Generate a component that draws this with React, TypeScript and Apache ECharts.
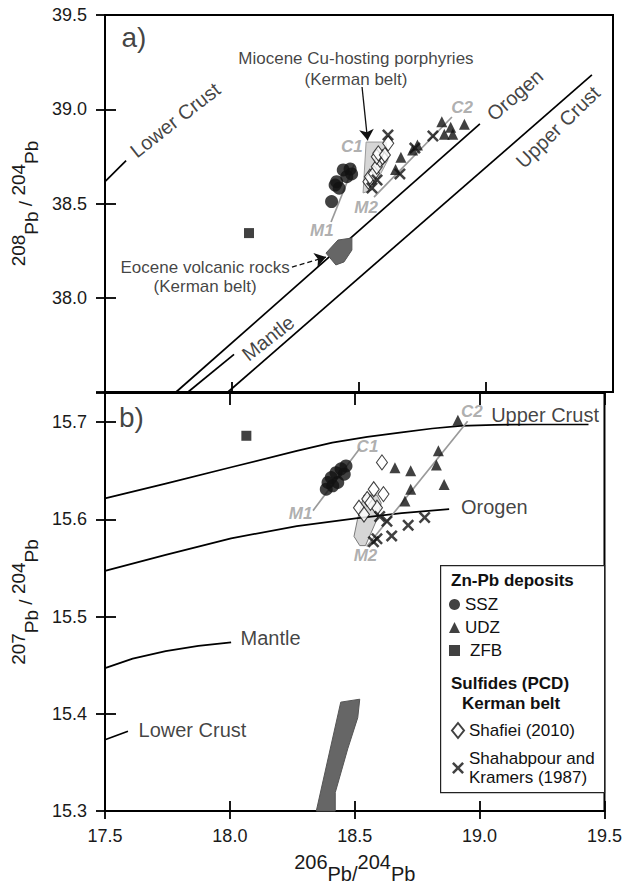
import React, { useEffect, useRef } from 'react';
import * as echarts from 'echarts';

const FONT = '"Liberation Sans", Arial, Helvetica, sans-serif';

// ---------- axis ranges / ticks ----------
const X_MIN = 17.5, X_MAX = 19.5, X_STEP = 0.5;
const YA_MIN = 37.5, YA_MAX = 39.5, YA_STEP = 0.5;
const YB_MIN = 15.3, YB_MAX = 15.73, YB_STEP = 0.1;

// ---------- panel a) 208Pb/204Pb vs 206Pb/204Pb ----------
const sszA = [[18.392, 38.51], [18.406, 38.598], [18.422, 38.581], [18.412, 38.616], [18.438, 38.678], [18.465, 38.683], [18.471, 38.657], [18.452, 38.642]];
const udzA = [[18.665, 38.745], [18.644, 38.681], [18.711, 38.784], [18.73, 38.81], [18.826, 38.934], [18.861, 38.904], [18.836, 38.867], [18.869, 38.867], [18.915, 38.92]];
const zfbA = [[18.067, 38.343]];
const shafieiA = [[18.537, 38.616], [18.543, 38.642], [18.559, 38.66], [18.57, 38.695], [18.583, 38.731], [18.593, 38.745], [18.57, 38.748], [18.576, 38.766], [18.602, 38.757], [18.615, 38.819]];
const shahabA = [[18.614, 38.863], [18.661, 38.657], [18.791, 38.858], [18.72, 38.794], [18.571, 38.625], [18.551, 38.582]];

const lowerCrustA = [[17.5, 38.616], [17.583, 38.727]];
const mantleA = [[17.827, 37.5], [18.008, 37.7]];
const orogenA = [[17.78, 37.5], [18.976, 38.922]];
const upperCrustA = [[17.984, 37.5], [19.417, 39.182]];

const eoceneA = [[18.37, 38.237], [18.417, 38.306], [18.472, 38.317], [18.472, 38.253], [18.441, 38.19], [18.409, 38.174]];
const mioceneA = [[18.528, 38.826], [18.606, 38.826], [18.614, 38.731], [18.551, 38.572], [18.516, 38.556]];
const m1A = [[18.39, 38.402], [18.48, 38.704]];
const m2A = [[18.559, 38.534], [18.866, 38.959]];

// ---------- panel b) 207Pb/204Pb vs 206Pb/204Pb ----------
const sszB = [[18.386, 15.631], [18.393, 15.638], [18.406, 15.643], [18.425, 15.648], [18.445, 15.652], [18.465, 15.655], [18.458, 15.6465], [18.432, 15.638], [18.412, 15.6345]];
const udzB = [[18.913, 15.702], [18.835, 15.6705], [18.827, 15.656], [18.858, 15.636], [18.661, 15.653], [18.724, 15.65], [18.724, 15.631], [18.701, 15.619]];
const zfbB = [[18.066, 15.686]];
const shafieiB = [[18.609, 15.6586], [18.576, 15.631], [18.615, 15.626], [18.55, 15.621], [18.517, 15.612], [18.589, 15.612], [18.563, 15.617], [18.537, 15.605]];
const shahabB = [[18.78, 15.602], [18.714, 15.594], [18.648, 15.583], [18.589, 15.58], [18.575, 15.577], [18.629, 15.598], [18.6, 15.603]];

const upperCrustB = [[17.5, 15.6216], [17.743, 15.6368], [18.005, 15.6536], [18.268, 15.6704], [18.41, 15.679], [18.55, 15.6848], [18.688, 15.6894], [18.81, 15.6935], [18.924, 15.6962], [19.06, 15.6973], [19.213, 15.6976], [19.436, 15.6976]];
const orogenB = [[17.5, 15.547], [17.743, 15.5635], [18.005, 15.5805], [18.268, 15.5930], [18.504, 15.601], [18.688, 15.6065], [18.878, 15.6105]];
const mantleB = [[17.5, 15.447], [17.611, 15.4568], [17.743, 15.4645], [17.874, 15.4698], [18.005, 15.4735]];
const lowerCrustB = [[17.5, 15.3733], [17.592, 15.382]];

const eoceneB = [[18.346, 15.3], [18.444, 15.412], [18.52, 15.415], [18.512, 15.396], [18.472, 15.364], [18.422, 15.319], [18.422, 15.3]];
const mioceneB = [[18.537, 15.625], [18.589, 15.625], [18.606, 15.617], [18.589, 15.6], [18.543, 15.573], [18.52, 15.573], [18.497, 15.5825], [18.511, 15.6]];
const m1B = [[18.333, 15.609], [18.52, 15.673]];
const m2B = [[18.548, 15.572], [18.952, 15.701]];

// ---------- text labels [text, x, y, rotate, fontSize] ----------
const textA: [string, number, number, number, number][] = [
  ['a)', 17.614, 39.383, 0, 28],
  ['Lower Crust', 17.776, 38.943, 38, 20],
  ['Orogen', 19.114, 39.076, 41, 20],
  ['Upper Crust', 19.283, 38.906, 44, 20],
  ['Mantle', 18.142, 37.786, 38, 20],
  ['Miocene Cu-hosting porphyries', 18.488, 39.267, 0, 17],
  ['(Kerman belt)', 18.488, 39.16, 0, 17],
  ['Eocene volcanic rocks', 17.894, 38.163, 0, 17],
  ['(Kerman belt)', 17.894, 38.062, 0, 17],
];
const grayA: [string, number, number][] = [['M1', 18.354, 38.359], ['C1', 18.472, 38.8], ['M2', 18.528, 38.481], ['C2', 18.906, 39.007]];
const textB: [string, number, number, number, number][] = [
  ['b)', 17.606, 15.705, 0, 28],
  ['Upper Crust', 19.262, 15.7072, 0, 20],
  ['Orogen', 19.059, 15.6131, 0, 20],
  ['Mantle', 18.163, 15.4776, 0, 20],
  ['Lower Crust', 17.85, 15.3836, 0, 20],
];
const grayB: [string, number, number][] = [['M1', 18.283, 15.6064], ['C1', 18.551, 15.675], ['M2', 18.543, 15.563], ['C2', 18.969, 15.711]];

// arrows [from, to, dashed]
const arrowsA: [number[], number[], boolean][] = [
  [[18.512, 39.118], [18.534, 38.835], false],
  [[18.236, 38.163], [18.37, 38.216], true],
];

const N_SSZ = 'SSZ', N_UDZ = 'UDZ', N_ZFB = 'ZFB', N_SHA = 'Shafiei (2010)', N_SK = 'Shahabpour and\nKramers (1987)';
const X_PATH = 'path://M0,1.5L1.5,0L5,3.5L8.5,0L10,1.5L6.5,5L10,8.5L8.5,10L5,6.5L1.5,10L0,8.5L3.5,5Z';

function curve(data: number[][], xi: number, yi: number) {
  return { type: 'line', xAxisIndex: xi, yAxisIndex: yi, data, symbol: 'none', smooth: false, silent: true, z: 3, lineStyle: { color: '#000', width: 1.7, join: 'round' } };
}
function grayLine(data: number[][], xi: number, yi: number) {
  return { type: 'line', xAxisIndex: xi, yAxisIndex: yi, data, symbol: 'none', silent: true, z: 5, lineStyle: { color: '#9a9a9a', width: 1.7 } };
}
function poly(data: number[][], xi: number, yi: number, fill: string, stroke: string, z: number) {
  return {
    type: 'custom', xAxisIndex: xi, yAxisIndex: yi, data, silent: true, z,
    encode: { x: 0, y: 1 },
    renderItem: (params: any, api: any) => {
      if (params.dataIndex !== 0) return null;
      const points = data.map((p) => api.coord(p));
      return { type: 'polygon', shape: { points }, style: { fill, stroke, lineWidth: 1 } };
    },
  };
}
function points(kind: string, data: number[][], xi: number, yi: number) {
  const base: any = { type: 'scatter', name: kind, xAxisIndex: xi, yAxisIndex: yi, data, silent: true, z: 6 };
  if (kind === N_SSZ) return { ...base, symbol: 'circle', symbolSize: 13, itemStyle: { color: '#111' } };
  if (kind === N_UDZ) return { ...base, symbol: 'triangle', symbolSize: 11, itemStyle: { color: '#111' } };
  if (kind === N_ZFB) return { ...base, symbol: 'rect', symbolSize: 10, itemStyle: { color: '#111' } };
  if (kind === N_SHA) return { ...base, symbol: 'diamond', symbolSize: [11, 15], itemStyle: { color: '#fff', borderColor: '#111', borderWidth: 1.1 } };
  return { ...base, symbol: X_PATH, symbolSize: 12, itemStyle: { color: '#111' } };
}
function texts(items: [string, number, number, number, number][], xi: number, yi: number) {
  return {
    type: 'scatter', xAxisIndex: xi, yAxisIndex: yi, symbolSize: 0, silent: true, z: 8,
    data: items.map(([t, x, y, r, fs]) => ({
      value: [x, y],
      label: { show: true, position: 'inside', formatter: t, rotate: r, fontSize: fs, color: '#111', fontFamily: FONT },
    })),
  };
}
function grayTexts(items: [string, number, number][], xi: number, yi: number) {
  return {
    type: 'scatter', xAxisIndex: xi, yAxisIndex: yi, symbolSize: 0, silent: true, z: 8,
    data: items.map(([t, x, y]) => ({
      value: [x, y],
      label: { show: true, position: 'inside', formatter: t, fontSize: 17, fontStyle: 'italic', fontWeight: 'bold', color: '#9a9a9a', fontFamily: FONT },
    })),
  };
}

const tickStyle = { color: '#000', width: 1.8 };
const labelStyle = { fontSize: 18, color: '#1a1a1a', fontFamily: FONT };
const nameRich = {
  n: { fontSize: 19, verticalAlign: 'top', lineHeight: 32, fontFamily: FONT, color: '#1a1a1a' },
  p: { fontSize: 19, verticalAlign: 'bottom', lineHeight: 32, fontFamily: FONT, color: '#1a1a1a' },
  m: { fontSize: 19, verticalAlign: 'middle', lineHeight: 32, fontFamily: FONT, color: '#1a1a1a' },
};

function xAxisDef(grid: number, position: string, inside: boolean, len: number, labels: boolean, extra: any = {}) {
  return {
    type: 'value', gridIndex: grid, position, min: X_MIN, max: X_MAX, interval: X_STEP,
    axisLine: { show: false }, splitLine: { show: false },
    axisTick: { show: true, inside, length: len, lineStyle: tickStyle },
    axisLabel: labels ? { ...labelStyle, margin: 16, formatter: (v: number) => v.toFixed(1) } : { show: false },
    ...extra,
  };
}
function yAxisDef(grid: number, min: number, max: number, step: number, inside: boolean, len: number, labels: boolean, fmt: any, extra: any = {}) {
  return {
    type: 'value', gridIndex: grid, position: 'left', min, max, interval: step,
    axisLine: { show: false }, splitLine: { show: false },
    axisTick: { show: true, inside, length: len, lineStyle: tickStyle },
    axisLabel: labels ? { ...labelStyle, margin: 18, formatter: fmt } : { show: false },
    ...extra,
  };
}

function buildOption() {
  const fmtA = (v: number) => (v < YA_MIN + 0.01 ? '' : v.toFixed(1));
  const fmtB = (v: number) => (Math.abs(v * 10 - Math.round(v * 10)) < 1e-6 && v < 15.71 ? v.toFixed(1) : '');
  const boldFont = `bold 17px ${FONT}`;
  return {
    animation: false,
    backgroundColor: '#fff',
    grid: [
      { left: 105, top: 15, width: 508, height: 377, show: true, borderColor: '#000', borderWidth: 2, backgroundColor: 'transparent' },
      { left: 105, top: 393, width: 508, height: 419, show: true, borderColor: '#000', borderWidth: 2, backgroundColor: 'transparent' },
    ],
    xAxis: [
      xAxisDef(0, 'bottom', true, 10, false),
      xAxisDef(1, 'bottom', false, 8, true, {
        name: '{n|206}{p|Pb/}{n|204}{p|Pb}', nameLocation: 'middle', nameGap: 41,
        nameTextStyle: { rich: { n: { ...nameRich.n, fontSize: 20 }, p: { ...nameRich.p, fontSize: 20 } } },
      }),
      xAxisDef(1, 'bottom', true, 10, false),
      xAxisDef(1, 'top', true, 12, false),
    ],
    yAxis: [
      yAxisDef(0, YA_MIN, YA_MAX, YA_STEP, false, 9, true, fmtA, {
        name: '{n|208}{p|Pb}{m| / }{n|204}{p|Pb}', nameLocation: 'middle', nameRotate: 90, nameGap: 63,
        nameTextStyle: { rich: nameRich },
      }),
      yAxisDef(0, YA_MIN, YA_MAX, YA_STEP, true, 11, false, null),
      yAxisDef(1, YB_MIN, YB_MAX, YB_STEP, false, 9, true, fmtB, {
        name: '{n|207}{p|Pb}{m| / }{n|204}{p|Pb}', nameLocation: 'middle', nameRotate: 90, nameGap: 63,
        nameTextStyle: { rich: nameRich },
      }),
      yAxisDef(1, YB_MIN, YB_MAX, YB_STEP, true, 11, false, null),
    ],
    legend: [
      {
        left: 449, top: 596, orient: 'vertical', itemWidth: 11, itemHeight: 11, itemGap: 6, selectedMode: false, padding: 0,
        data: [N_SSZ, N_UDZ, { name: N_ZFB, textStyle: { padding: [0, 0, 0, 5] } }],
        textStyle: { fontSize: 17, color: '#111', fontFamily: FONT },
      },
      {
        left: 451, top: 721, orient: 'vertical', itemWidth: 12, itemHeight: 15, itemGap: 9, selectedMode: false, padding: 0,
        data: [N_SHA, N_SK], textStyle: { fontSize: 17, color: '#111', fontFamily: FONT, lineHeight: 19 },
      },
    ],
    graphic: [
      { type: 'rect', left: 440, top: 565, shape: { width: 164, height: 227 }, style: { fill: '#fff', stroke: '#222', lineWidth: 1.2 }, z: 0, zlevel: 0 },
      { type: 'text', left: 451, top: 572, style: { text: 'Zn-Pb deposits', font: boldFont, fill: '#111' } },
      { type: 'text', left: 451, top: 675, style: { text: 'Sulfides (PCD)', font: boldFont, fill: '#111' } },
      { type: 'text', left: 462, top: 695, style: { text: 'Kerman belt', font: boldFont, fill: '#111' } },
    ],
    series: [
      // panel a
      poly(mioceneA, 0, 0, '#d6d6d6', '#9a9a9a', 1),
      curve(lowerCrustA, 0, 0),
      curve(mantleA, 0, 0),
      curve(orogenA, 0, 0),
      curve(upperCrustA, 0, 0),
      poly(eoceneA, 0, 0, '#666', '#555', 4),
      grayLine(m1A, 0, 0),
      grayLine(m2A, 0, 0),
      points(N_SHA, shafieiA, 0, 0),
      points(N_SK, shahabA, 0, 0),
      points(N_SSZ, sszA, 0, 0),
      points(N_UDZ, udzA, 0, 0),
      points(N_ZFB, zfbA, 0, 0),
      texts(textA, 0, 0),
      grayTexts(grayA, 0, 0),
      {
        type: 'line', xAxisIndex: 0, yAxisIndex: 0, data: [], silent: true, z: 7,
        markLine: {
          silent: true, symbol: ['none', 'arrow'], symbolSize: 11, label: { show: false },
          data: arrowsA.map(([a, b, dashed]) => [
            { coord: a, lineStyle: { color: '#111', width: 1.3, type: dashed ? [5, 3] : 'solid' } },
            { coord: b },
          ]),
        },
      },
      // panel b
      poly(mioceneB, 1, 2, '#d6d6d6', '#7a7a7a', 1),
      poly(eoceneB, 1, 2, '#666', '#555', 1),
      curve(upperCrustB, 1, 2),
      curve(orogenB, 1, 2),
      curve(mantleB, 1, 2),
      curve(lowerCrustB, 1, 2),
      grayLine(m1B, 1, 2),
      grayLine(m2B, 1, 2),
      points(N_SHA, shafieiB, 1, 2),
      points(N_SK, shahabB, 1, 2),
      points(N_SSZ, sszB, 1, 2),
      points(N_UDZ, udzB, 1, 2),
      points(N_ZFB, zfbB, 1, 2),
      texts(textB, 1, 2),
      grayTexts(grayB, 1, 2),
    ],
  };
}

export default function App() {
  const ref = useRef<HTMLDivElement>(null);
  useEffect(() => {
    const chart = echarts.init(ref.current!, null, { renderer: 'svg' });
    chart.setOption(buildOption() as any);
    return () => chart.dispose();
  }, []);
  return <div ref={ref} style={{ position: 'absolute', left: 0, top: 0, width: 625, height: 885, background: '#fff' }} />;
}
